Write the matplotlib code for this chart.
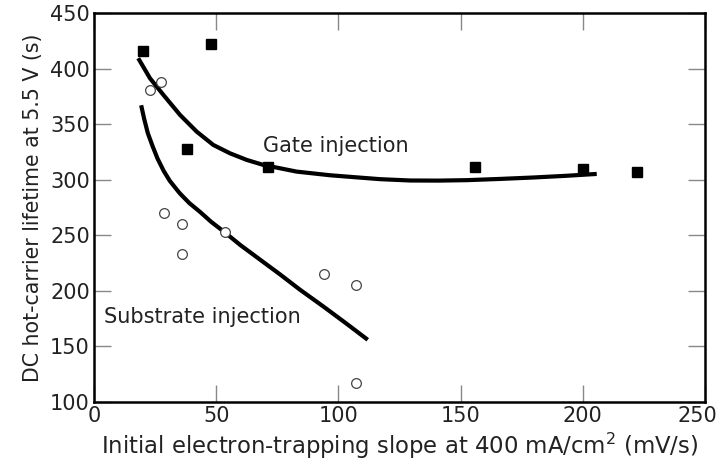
import matplotlib
matplotlib.use("Agg")
import matplotlib.pyplot as plt
import matplotlib.transforms as mtransforms

plt.rcParams['font.family'] = ['DejaVu Sans']

# Gate injection data (filled squares)
gate_x = [20, 48, 38, 71, 156, 200, 222]
gate_y = [416, 422, 328, 311, 311, 310, 307]

# Substrate injection data (open circles)
sub_x = [23, 27.5, 28.5, 36, 36, 53.5, 94, 107, 107]
sub_y = [381, 388, 270, 260, 233, 253, 215, 205, 117]

# Fitted curves
gate_fit_x = [18.1, 22.9, 28.4, 35.2, 42.0, 48.8, 55.6, 62.5, 69.3, 82.9, 96.6,
              104.7, 117, 129.3, 141, 152.5, 166, 179.8, 193, 205.7]
gate_fit_y = [409.3, 391.3, 376.3, 358.3, 343.3, 331.3, 323.8, 317.8, 313.3, 307.3, 304.0,
              302.6, 300.5, 299.3, 299.2, 299.6, 300.7, 302.0, 303.5, 305.2]

sub_fit_x = [19.3, 20.5, 22, 24, 26, 28.5, 31, 35, 39, 43.4, 48, 53.3, 60, 68,
             76, 84.3, 93.8, 103, 112]
sub_fit_y = [367, 355, 342, 330, 319, 308, 299, 288, 279, 271, 262, 253, 241, 228,
             215, 201, 186, 171, 156]

xticks = [0, 50, 100, 150, 200, 250]
yticks = [100, 150, 200, 250, 300, 350, 400, 450]

fig = plt.figure(figsize=(7.17, 4.73), dpi=100)
ax = fig.add_axes([94/717, 1-402/473, (705-94)/717, (402-13)/473])

ax.plot(gate_fit_x, gate_fit_y, color='black', lw=3, solid_capstyle='butt',
        solid_joinstyle='round')
ax.plot(sub_fit_x, sub_fit_y, color='black', lw=3, solid_capstyle='butt',
        solid_joinstyle='round')
ax.plot(gate_x, gate_y, ls='none', marker='s', ms=7, color='black')
ax.plot(sub_x, sub_y, ls='none', marker='o', ms=7, mfc='white', mec='#444444', mew=0.9)

ax.text(69, 325.3, 'Gate injection', fontsize=15, color='#222222', va='baseline')
ax.text(4, 171.5, 'Substrate injection', fontsize=15, color='#222222', va='baseline')

ax.set_xlim(0, 250)
ax.set_ylim(100, 450)
ax.set_xticks(xticks)
ax.set_yticks(yticks)
ax.tick_params(direction='in', length=12, width=1, color='#888888',
               top=True, right=True, labelsize=15, labelcolor='#222222', pad=3)
for s in ax.spines.values():
    s.set_linewidth(1.8)
ax.set_xlabel('Initial electron-trapping slope at 400 mA/cm$^2$ (mV/s)', fontsize=16.4,
              color='#222222', labelpad=3)
ax.set_ylabel('DC hot-carrier lifetime at 5.5 V (s)', fontsize=14.8, color='#222222',
              labelpad=5)

fig.canvas.draw()
last = ax.get_xticklabels()[-1]
last.set_transform(last.get_transform() + mtransforms.ScaledTranslation(-0.08, 0, fig.dpi_scale_trans))

fig.savefig('out.png', dpi=100)
